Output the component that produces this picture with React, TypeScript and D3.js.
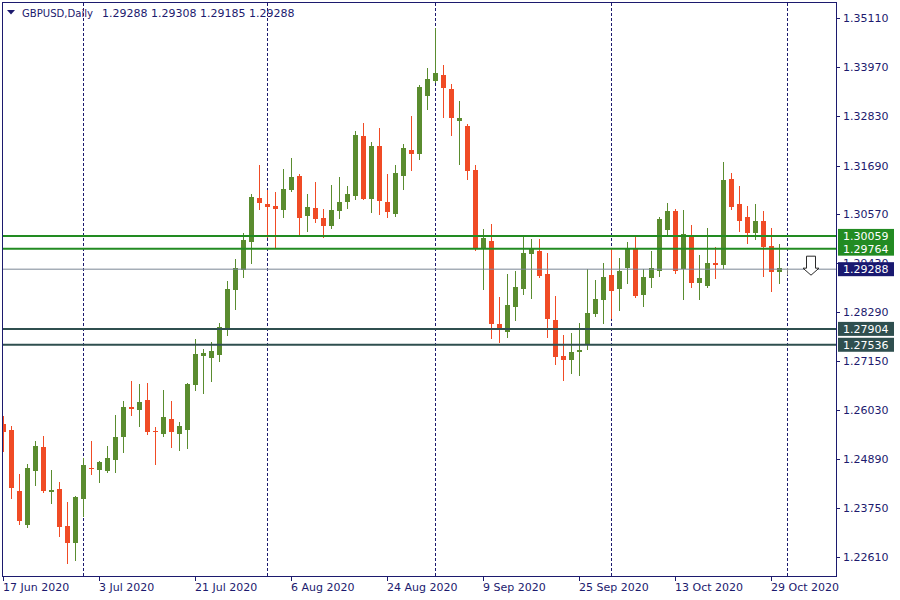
import React from 'react';
import * as d3 from 'd3';

// GBPUSD daily candles, 17 Jun 2020 .. 2 Nov 2020 (index = trading day)
const openP = [
  1.25695, 1.25556, 1.24141, 1.23353, 1.24605, 1.25162, 1.24118, 1.24188, 1.2333, 1.22935,
  1.23956, 1.24686, 1.24628, 1.24605, 1.2486, 1.25393, 1.26089, 1.2602, 1.26251, 1.25534,
  1.25463, 1.25811, 1.25463, 1.25556, 1.26599, 1.27272, 1.27225, 1.27295, 1.27898, 1.28802,
  1.29266, 1.29915, 1.30936, 1.30797, 1.3075, 1.30658, 1.31121, 1.31446, 1.30518, 1.30704,
  1.30472, 1.30287, 1.30634, 1.30843, 1.30982, 1.32374, 1.30913, 1.32142, 1.30843, 1.30565,
  1.31446, 1.32049, 1.31956, 1.33301, 1.33649, 1.33788, 1.33464, 1.32721, 1.32606, 1.31585,
  1.29753, 1.29939, 1.28014, 1.27828, 1.28408, 1.28826, 1.29637, 1.29707, 1.29173, 1.28107,
  1.27272, 1.27179, 1.27365, 1.2755, 1.28246, 1.2857, 1.2915, 1.28826, 1.29313, 1.29753,
  1.28686, 1.29081, 1.29243, 1.30194, 1.30634, 1.29289, 1.30078, 1.28965, 1.28895, 1.29428,
  1.29382, 1.31376, 1.30797, 1.30495, 1.30124, 1.30402, 1.29823, 1.2922, 1.29288,
];
const highP = [
  1.2588, 1.25649, 1.24535, 1.24767, 1.25301, 1.25417, 1.24628, 1.2435, 1.23886, 1.24025,
  1.24906, 1.25301, 1.24837, 1.25185, 1.25904, 1.26228, 1.26692, 1.26622, 1.26646, 1.25625,
  1.26483, 1.26228, 1.25741, 1.26646, 1.27666, 1.27434, 1.27596, 1.28037, 1.29011, 1.29521,
  1.30124, 1.31029, 1.31701, 1.31121, 1.31075, 1.31608, 1.31863, 1.31492, 1.31029, 1.31307,
  1.30681, 1.31237, 1.31423, 1.31214, 1.3249, 1.32675, 1.32234, 1.32559, 1.31492, 1.31701,
  1.32188, 1.32837, 1.33556, 1.3395, 1.34878, 1.3402, 1.3358, 1.33185, 1.32652, 1.31701,
  1.30217, 1.30333, 1.2864, 1.29173, 1.29243, 1.30078, 1.29985, 1.29985, 1.2966, 1.28663,
  1.27759, 1.27805, 1.28037, 1.29289, 1.29034, 1.29428, 1.29776, 1.29544, 1.29915, 1.30078,
  1.29289, 1.29707, 1.30495, 1.3082, 1.30681, 1.30658, 1.3031, 1.29614, 1.3024, 1.298,
  1.31771, 1.31516, 1.31214, 1.3075, 1.30797, 1.30634, 1.3024, 1.29869, 1.29308,
];
const lowP = [
  1.25069, 1.23979, 1.23376, 1.23306, 1.2428, 1.24118, 1.23863, 1.23098, 1.22471, 1.22541,
  1.23561, 1.24535, 1.2435, 1.24582, 1.24582, 1.25046, 1.25904, 1.25649, 1.25463, 1.24767,
  1.25417, 1.25162, 1.25092, 1.25138, 1.26483, 1.26414, 1.26692, 1.27156, 1.27759, 1.28362,
  1.29104, 1.29428, 1.30681, 1.30031, 1.29776, 1.30495, 1.31098, 1.30078, 1.30171, 1.30379,
  1.30031, 1.3024, 1.30472, 1.30704, 1.30913, 1.30905, 1.30611, 1.30565, 1.30495, 1.30518,
  1.31145, 1.31585, 1.3184, 1.33, 1.33626, 1.32814, 1.32397, 1.31724, 1.31376, 1.2973,
  1.28826, 1.27689, 1.27596, 1.27712, 1.28107, 1.2871, 1.28617, 1.29104, 1.27712, 1.27086,
  1.26715, 1.26878, 1.26831, 1.27434, 1.28199, 1.28037, 1.28153, 1.28339, 1.28965, 1.2864,
  1.28431, 1.28872, 1.29127, 1.30055, 1.29197, 1.28594, 1.28872, 1.28594, 1.28872, 1.29081,
  1.29313, 1.30681, 1.30171, 1.29892, 1.29985, 1.29127, 1.28779, 1.28965, 1.29185,
];
const closeP = [
  1.25509, 1.24211, 1.23445, 1.24675, 1.25185, 1.24141, 1.24164, 1.23306, 1.22935, 1.24002,
  1.24744, 1.24663, 1.24814, 1.24906, 1.25393, 1.26089, 1.26054, 1.26205, 1.25509, 1.25511,
  1.25857, 1.25509, 1.25649, 1.26622, 1.27318, 1.27341, 1.27388, 1.27944, 1.28826, 1.29313,
  1.29962, 1.30959, 1.3082, 1.30727, 1.30681, 1.31145, 1.31423, 1.30472, 1.30727, 1.30449,
  1.30287, 1.30658, 1.30843, 1.31029, 1.32397, 1.3092, 1.32142, 1.30866, 1.30611, 1.31516,
  1.32095, 1.31956, 1.3351, 1.33695, 1.33835, 1.33487, 1.32791, 1.32791, 1.31562, 1.29776,
  1.30008, 1.28014, 1.27921, 1.28454, 1.28872, 1.2966, 1.29753, 1.29127, 1.2813, 1.27249,
  1.27179, 1.27365, 1.27411, 1.28269, 1.28594, 1.29104, 1.28779, 1.29243, 1.29753, 1.28663,
  1.29104, 1.29313, 1.30449, 1.30634, 1.29243, 1.30101, 1.28965, 1.29081, 1.29428, 1.29382,
  1.31353, 1.30727, 1.30402, 1.30124, 1.30402, 1.298, 1.2922, 1.2932, 1.29288,
];

const dateLabels = ['17 Jun 2020', '3 Jul 2020', '21 Jul 2020', '6 Aug 2020', '24 Aug 2020', '9 Sep 2020', '25 Sep 2020', '13 Oct 2020', '29 Oct 2020'];
const dateLabelIdx = [0, 12, 24, 36, 48, 60, 72, 84, 96];
const separatorIdx = [10, 33, 54, 76, 98];
const priceTicks = ['1.35110', '1.33970', '1.32830', '1.31690', '1.30570', '1.29430', '1.28290', '1.27150', '1.26030', '1.24890', '1.23750', '1.22610'];
const greenLevels = ['1.30059', '1.29764'];
const slateLevels = ['1.27904', '1.27536'];
const bidPrice = '1.29288';
const symbolName = 'GBPUSD,Daily';
const headerValues = ['1.29288', '1.29308', '1.29185', '1.29288'];

const NAVY = '#1c1a6e';
const BULL = '#5a8c2f';
const BEAR = '#f04b25';
const FONT = '"DejaVu Sans", Verdana, sans-serif';

export default function App() {
  const W = 900;
  const H = 600;
  const left = 2.5, top = 2.5, right = 836.5, bottom = 576.5;
  const x = d3.scaleLinear().domain([0, 1]).range([3.5, 11.5]);
  const y = d3.scaleLinear().domain([1.2261, 1.3511]).range([557.3, 18]);

  const candles = openP.map((o, i) => {
    const c = closeP[i];
    const h = highP[i];
    const l = lowP[i];
    const cx = x(i);
    const yt = Math.round(y(Math.max(o, c)));
    const yb = Math.round(y(Math.min(o, c)));
    const color = c > o ? BULL : c < o ? BEAR : '#808080';
    return (
      <g key={i}>
        <line x1={cx} x2={cx} y1={Math.round(y(h))} y2={Math.round(y(l)) + 1} stroke={color} strokeWidth={1} />
        {c !== o ? (
          <rect x={cx - 2.5} y={yt} width={5} height={Math.max(1, yb - yt)} fill={color} />
        ) : null}
      </g>
    );
  });

  const levelLine = (v: string, color: string, w: number, key: string) => {
    const yy = y(+v);
    return <line key={key} x1={left} x2={right} y1={yy} y2={yy} stroke={color} strokeWidth={w} />;
  };

  const levelLabel = (v: string, bg: string, key: string) => {
    const yy = y(+v);
    return (
      <g key={key}>
        <rect x={838} y={yy - 7} width={56} height={14} fill={bg} />
        <text x={843} y={yy + 4} fill="#ffffff" fontSize={11} fontFamily={FONT}>{v}</text>
      </g>
    );
  };

  const ay = y(+bidPrice);
  const ax = 811;
  const arrowPath = `M${ax - 4.5},${ay - 13} H${ax + 4.5} V${ay - 1} H${ax + 8} L${ax},${ay + 6} L${ax - 8},${ay - 1} H${ax - 4.5} Z`;

  return (
    <div style={{ position: 'fixed', left: 0, top: 0, width: W, height: H, background: '#fff' }}>
      <svg width={W} height={H} style={{ display: 'block' }}>
        <defs>
          <clipPath id="plot">
            <rect x={3} y={3} width={833} height={573} />
          </clipPath>
        </defs>
        <rect x={0} y={0} width={W} height={H} fill="#ffffff" />

        <g clipPath="url(#plot)">
          {separatorIdx.map((i) => (
            <line key={'s' + i} x1={x(i)} x2={x(i)} y1={3} y2={576} stroke={NAVY} strokeWidth={1} strokeDasharray="3,2" />
          ))}
          <g shapeRendering="crispEdges">{candles}</g>
          <line x1={left} x2={right} y1={ay} y2={ay} stroke="#7a8694" strokeWidth={1} />
          {greenLevels.map((v, k) => levelLine(v, '#228b22', 2, 'g' + k))}
          {slateLevels.map((v, k) => levelLine(v, '#2f4f4f', 2, 'd' + k))}
          <path d={arrowPath} fill="#ffffff" stroke="#2a2a2a" strokeWidth={1} />
        </g>

        {/* frame */}
        <rect x={left} y={top} width={right - left} height={bottom - top} fill="none" stroke={NAVY} strokeWidth={1} shapeRendering="crispEdges" />

        {/* price axis */}
        {priceTicks.map((t) => (
          <g key={t}>
            <line x1={837} x2={840} y1={Math.round(y(+t)) + 0.5} y2={Math.round(y(+t)) + 0.5} stroke={NAVY} />
            <text x={843} y={y(+t) + 4} fill={NAVY} fontSize={11} fontFamily={FONT}>{t}</text>
          </g>
        ))}

        {/* level labels */}
        {greenLevels.map((v, k) => levelLabel(v, '#228b22', 'gl' + k))}
        {levelLabel(bidPrice, '#191970', 'bid')}
        {slateLevels.map((v, k) => levelLabel(v, '#2f4f4f', 'dl' + k))}

        {/* time axis */}
        {dateLabelIdx.map((i, k) => (
          <g key={'t' + i}>
            <line x1={x(i)} x2={x(i)} y1={577} y2={581} stroke={NAVY} />
            <text x={x(i) - 0.5} y={591} fill={NAVY} fontSize={11} fontFamily={FONT}>{dateLabels[k]}</text>
          </g>
        ))}

        {/* header */}
        <polygon points="7,10 15,10 11,14.5" fill={NAVY} />
        <text x={22} y={17} fill={NAVY} fontSize={11} fontFamily={FONT} textLength={71} lengthAdjust="spacingAndGlyphs">{symbolName}</text>
        <text x={102} y={17} fill={NAVY} fontSize={11} fontFamily={FONT}>{headerValues.join(' ')}</text>
      </svg>
    </div>
  );
}
